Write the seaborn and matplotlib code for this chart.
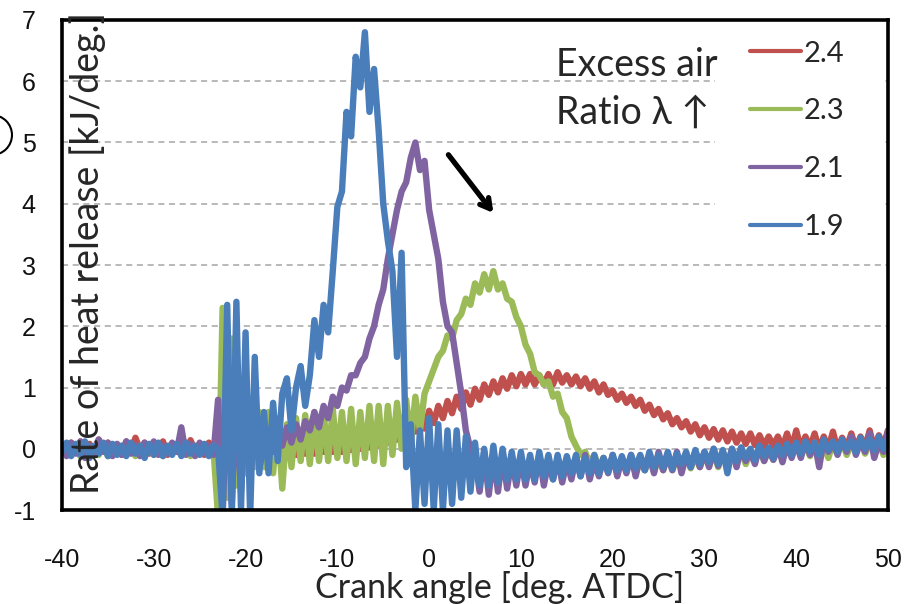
import numpy as np
import pandas as pd
import matplotlib
matplotlib.use("Agg")
import matplotlib.pyplot as plt
import seaborn as sns
from matplotlib.lines import Line2D
from matplotlib.patches import Rectangle, Ellipse

# ---------------- data (0.5 deg steps) ----------------
crank_angle = np.arange(-40, 50.001, 0.5)   # 181 points

lam_2_4 = (
    [0.05, -0.08, 0.1, -0.05, 0.12, -0.1, 0.08, -0.06, 0.15, -0.04,
     0.1, -0.08, 0.06, -0.1, 0.12, -0.05, 0.18, -0.02, 0.1, -0.08,
     0.08, -0.06, 0.12, -0.1, 0.06, -0.05, 0.1, -0.08, 0.14, -0.04,
     0.08, -0.1, 0.1, -0.06]
    + [0.3, -0.3, 0.4, -0.2, 0.3, -0.3, 0.25, -0.2, 0.2, -0.15]
    + [0.05, -0.15, 0.08, -0.12, 0.08, -0.12, 0.1, -0.1, 0.1, -0.08,
       0.12, -0.08, 0.12, -0.05, 0.15, -0.05]
    + [0.15, -0.05, 0.18, -0.02, 0.2, 0.0, 0.22, 0.02, 0.25, 0.05,
       0.3, 0.1, 0.35, 0.15, 0.4, 0.2, 0.45, 0.28, 0.52, 0.33]
    + [0.62, 0.42, 0.7, 0.5, 0.78, 0.58, 0.85, 0.65, 0.92, 0.72,
       0.98, 0.8, 1.05, 0.88, 1.1, 0.92, 1.15, 0.98, 1.2, 1.02]
    + [1.22, 1.05, 1.22, 1.05, 1.2, 1.05, 1.22, 1.05, 1.25, 1.08,
       1.2, 1.05, 1.18, 1.02, 1.15, 0.98, 1.1, 0.92, 1.05, 0.88]
    + [0.95, 0.8, 0.9, 0.75, 0.85, 0.7, 0.8, 0.62, 0.72, 0.55,
       0.65, 0.48, 0.58, 0.4, 0.5, 0.35, 0.45, 0.28, 0.4, 0.22]
    + [0.35, 0.18, 0.32, 0.15, 0.3, 0.12, 0.28, 0.1, 0.25, 0.08,
       0.25, 0.06, 0.22, 0.05, 0.2, 0.05, 0.2, 0.02, 0.25, 0.0]
    + [0.3, 0.0, 0.2, 0.02, 0.25, -0.02, 0.2, 0.0, 0.28, -0.02,
       0.18, 0.02, 0.25, 0.0, 0.2, 0.02, 0.3, 0.0, 0.22, 0.05, 0.3]
)

lam_2_3 = (
    [-0.05, 0.05, -0.1, 0.02, -0.12, 0.05, -0.08, 0.0, -0.1, 0.05,
     -0.12, 0.02, -0.08, 0.05, -0.1, 0.0, -0.12, 0.05, -0.08, 0.02,
     -0.1, 0.05, -0.12, 0.0, -0.08, 0.05, -0.1, 0.02, -0.12, 0.0,
     -0.08, 0.05, -0.1, 0.0]
    + [-1.1, 2.3, -0.8, 1.8, -0.6, 1.0, -0.4, 0.8, -0.3, 0.6]
    + [-0.3, 0.6, -0.4, 0.5, -0.65, 0.4, -0.3, 0.5, -0.2, 0.55,
       -0.25, 0.6, -0.2, 0.6, -0.2, 0.65]
    + [-0.15, 0.6, -0.2, 0.65, -0.25, 0.6, -0.15, 0.7, -0.2, 0.7,
       -0.25, 0.7, -0.1, 0.75, 0.0, 0.8, 0.1, 0.85, 0.3, 0.9]
    + [1.1, 1.3, 1.5, 1.6, 1.85, 1.8, 2.1, 2.2, 2.45, 2.35,
       2.7, 2.55, 2.85, 2.6, 2.9, 2.6, 2.7, 2.45, 2.4, 2.15]
    + [2.0, 1.7, 1.55, 1.25, 1.2, 1.05, 1.1, 0.85, 0.9, 0.6,
       0.5, 0.2, 0.05, -0.1, -0.05, -0.25, -0.1, -0.3, -0.15, -0.3]
    + [-0.15, -0.35, -0.15, -0.35, -0.15, -0.4, -0.2, -0.35, -0.12, -0.38,
       -0.15, -0.35, -0.1, -0.35, -0.15, -0.3, -0.1, -0.32, -0.12, -0.3]
    + [-0.1, -0.28, -0.08, -0.3, -0.05, -0.25, -0.1, -0.22, -0.02, -0.25,
       -0.05, -0.2, 0.0, -0.2, -0.02, -0.18, 0.0, -0.15, 0.02, -0.12]
    + [0.05, -0.1, 0.08, -0.12, 0.1, -0.08, 0.05, -0.15, 0.1, -0.05,
       0.12, -0.1, 0.08, -0.05, 0.15, -0.08, 0.1, -0.05, 0.12, -0.1, 0.1]
)

lam_2_1 = (
    [0.05, -0.12, 0.1, -0.08, 0.12, -0.15, 0.05, -0.1, 0.15, -0.05,
     0.1, -0.12, 0.08, -0.1, 0.12, -0.08, 0.06, -0.12, 0.1, -0.05,
     0.12, -0.1, 0.05, -0.08, 0.1, -0.05, 0.35, -0.1, 0.08, -0.12,
     0.1, -0.08, 0.05, -0.1]
    + [0.8, -1.1, 1.2, -0.9, 0.9, -0.7, 0.6, -0.5, 0.4, -0.3]
    + [0.0, 0.3, -0.05, 0.35, 0.05, 0.35, 0.1, 0.4, 0.15, 0.45,
       0.3, 0.6, 0.35, 0.7, 0.5, 0.85]
    + [0.7, 1.0, 0.95, 1.2, 1.2, 1.4, 1.5, 1.8, 2.0, 2.35,
       2.6, 3.1, 3.5, 3.9, 4.2, 4.35, 4.75, 5.0, 4.55, 4.7]
    + [3.9, 3.5, 3.1, 2.4, 2.0, 1.9, 1.4, 0.9, 0.3, 0.0,
       -0.15, -0.7, -0.05, -0.75, -0.1, -0.7, -0.1, -0.65, -0.15, -0.6]
    + [-0.15, -0.6, -0.2, -0.55, -0.1, -0.6, -0.2, -0.5, -0.15, -0.55,
       -0.2, -0.5, -0.15, -0.45, -0.1, -0.5, -0.2, -0.45, -0.15, -0.4]
    + [-0.1, -0.45, -0.15, -0.4, -0.1, -0.45, -0.12, -0.35, -0.1, -0.4,
       -0.05, -0.35, -0.1, -0.35, -0.05, -0.4, -0.1, -0.3, -0.05, -0.3]
    + [-0.05, -0.3, 0.0, -0.28, -0.05, -0.25, 0.0, -0.3, 0.02, -0.2,
       -0.05, -0.25, 0.05, -0.2, 0.0, -0.18, 0.05, -0.22, 0.08, -0.15]
    + [0.1, -0.15, 0.12, -0.1, 0.1, -0.3, 0.15, -0.05, 0.1, -0.1,
       0.15, -0.05, 0.2, -0.1, 0.12, -0.05, 0.25, -0.15, 0.1, -0.05, 0.3]
)

lam_1_9 = (
    [-0.05, 0.1, -0.12, 0.08, -0.1, 0.12, -0.15, 0.05, -0.08, 0.1,
     -0.12, 0.08, -0.1, 0.05, -0.12, 0.1, -0.08, 0.05, -0.15, 0.08,
     -0.1, 0.1, -0.12, 0.05, -0.1, 0.08, -0.12, 0.1, -0.08, 0.05,
     -0.1, 0.08, -0.12, 0.05]
    + [0.0, -1.1, 2.35, -1.1, 2.4, -1.0, 1.9, -1.1, 1.5, -0.4]
    + [0.6, -0.4, 0.75, -0.2, 0.9, 1.15, 0.3, 1.0, 1.35, 0.7,
       1.2, 2.1, 1.5, 2.35, 1.9, 2.9]
    + [3.95, 4.2, 5.5, 5.1, 6.4, 5.9, 6.8, 5.5, 6.2, 5.2,
       4.0, 3.4, 2.9, 1.5, 3.2, -0.3, 0.4, -1.0, 0.3, -0.9]
    + [0.5, -1.0, 0.4, -1.0, 0.3, -0.9, 0.3, -0.8, 0.2, -0.7,
       0.1, -0.6, 0.0, -0.6, 0.05, -0.55, 0.0, -0.5, -0.05, -0.5]
    + [-0.05, -0.5, -0.1, -0.5, -0.05, -0.45, -0.1, -0.5, -0.1, -0.45,
       -0.12, -0.4, -0.1, -0.45, -0.15, -0.4, -0.1, -0.4, -0.15, -0.38]
    + [-0.1, -0.35, -0.12, -0.35, -0.1, -0.32, -0.1, -0.35, -0.05, -0.3,
       -0.1, -0.3, -0.05, -0.32, -0.08, -0.25, -0.05, -0.3, -0.02, -0.25]
    + [-0.05, -0.22, 0.0, -0.25, -0.02, -0.4, 0.0, -0.2, 0.02, -0.15,
       0.0, -0.18, 0.05, -0.12, 0.02, -0.15, 0.05, -0.1, 0.08, -0.1]
    + [0.1, -0.08, 0.12, -0.05, 0.1, -0.1, 0.15, -0.02, 0.12, -0.05,
       0.15, 0.0, 0.12, -0.05, 0.18, 0.0, 0.15, -0.02, 0.2, 0.0, 0.15]
)

series_labels = ["2.4", "2.3", "2.1", "1.9"]
series_colors = ["#C0504D", "#9BBB59", "#8064A2", "#4A7EBB"]
x_ticks = list(range(-40, 51, 10))
y_ticks = list(range(-1, 8))

# ---------------- build long table ----------------
frames = []
for lab, vals in zip(series_labels, [lam_2_4, lam_2_3, lam_2_1, lam_1_9]):
    frames.append(pd.DataFrame({"crank": crank_angle[:len(vals)],
                                "hrr": vals[:len(crank_angle)],
                                "lam": lab}))
df = pd.concat(frames, ignore_index=True)

# ---------------- figure ----------------
sns.set_style("white")
plt.rcParams["font.family"] = ["Liberation Sans", "DejaVu Sans"]
plt.rcParams["axes.unicode_minus"] = False

fig = plt.figure(figsize=(9.08, 6.04), dpi=100)
ax = fig.add_axes([0.0683, 0.1556, 0.9097, 0.8113])

ax.yaxis.grid(True, color="#A6A6A6", linestyle=(0, (4, 3)), linewidth=1.1)
ax.xaxis.grid(False)
ax.set_axisbelow(True)

sns.lineplot(data=df, x="crank", y="hrr", hue="lam", hue_order=series_labels,
             palette=series_colors, legend=False, ax=ax,
             sort=False, estimator=None)
for ln in ax.get_lines():
    ln.set_linewidth(4.6)
    ln.set_solid_joinstyle("round")

ax.set_xlim(-40, 50)
ax.set_ylim(-1, 7)
ax.set_xticks(x_ticks)
ax.set_yticks(y_ticks)
ax.set_xlabel("")
ax.set_ylabel("")
ax.tick_params(axis="x", direction="out", length=8, width=1, color="#A0A0A0",
               pad=19, labelsize=18, labelcolor="#111111")
ax.tick_params(axis="y", direction="out", length=6, width=1, color="#A0A0A0",
               pad=13, labelsize=18, labelcolor="#111111")
for sp in ax.spines.values():
    sp.set_visible(True)
    sp.set_color("black")
    sp.set_linewidth(2.6)

# white legend box hiding the grid
ax.add_patch(Rectangle((0.790, 0.571), 0.206, 0.429, transform=ax.transAxes,
                       facecolor="white", edgecolor="none", zorder=1.5))
handles = [Line2D([0], [0], color=c, lw=3.0) for c in series_colors]
leg = ax.legend(handles, series_labels, loc="upper left",
                bbox_to_anchor=(0.833, 0.958), frameon=False,
                prop={"family": "Lato", "size": 21}, handlelength=1.75,
                handletextpad=0.1, labelspacing=1.09, borderaxespad=0,
                borderpad=0)

txtfam = ["Lato", "DejaVu Sans"]
ax.text(0.598, 0.908, "Excess air", transform=ax.transAxes, fontsize=27,
        family=txtfam, va="center", ha="left")
ax.text(0.598, 0.810, "Ratio λ ↑", transform=ax.transAxes, fontsize=27,
        family=txtfam, va="center", ha="left")

ax.annotate("", xy=(7.0, 3.85), xytext=(2.1, 4.8),
            arrowprops=dict(arrowstyle="->,head_length=0.7,head_width=0.4",
                            color="black", lw=3.8, shrinkA=0, shrinkB=0))

ax.text(0.0315, 0.524, "Rate of heat release [kJ/deg.]", transform=ax.transAxes,
        rotation=90, fontsize=27, family=txtfam, va="center", ha="center",
        zorder=5)
ax.text(0.53, -0.158, "Crank angle [deg. ATDC]", transform=ax.transAxes,
        fontsize=24.5, family=txtfam, va="center", ha="center")

circ = Ellipse((-0.0088, 0.7765), 0.044, 0.066, transform=fig.transFigure,
               facecolor="none", edgecolor="black", lw=1.5, clip_on=False)
fig.add_artist(circ)

fig.savefig("out.png", dpi=100)
